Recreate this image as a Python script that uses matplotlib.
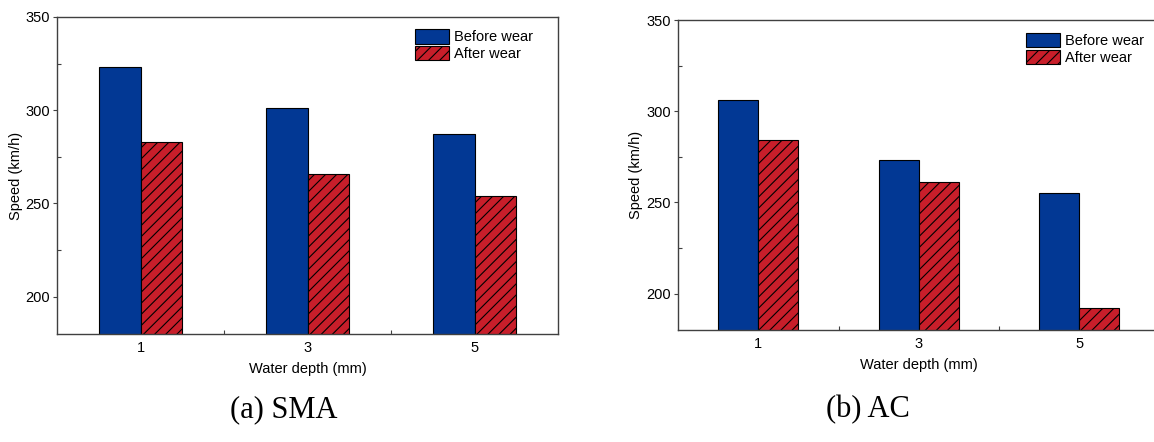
import matplotlib
matplotlib.use("Agg")
import matplotlib.pyplot as plt
import numpy as np
from matplotlib.ticker import FixedLocator

plt.rcParams['font.family'] = ['Liberation Sans', 'DejaVu Sans']
plt.rcParams['hatch.linewidth'] = 0.8

categories = ["1", "3", "5"]
sma_before = [323, 301, 287]
sma_after = [283, 266, 254]
ac_before = [306, 273, 255]
ac_after = [284, 261, 192]
series_labels = ["Before wear", "After wear"]
captions = ["(a) SMA", "(b) AC"]

BLUE = "#023894"
RED = "#C81E2A"

fig = plt.figure(figsize=(11.54, 4.42), dpi=100)

ax1 = fig.add_axes([57/1154, 1-334/442, 501/1154, 317/442])
ax2 = fig.add_axes([678/1154, 1-330/442, 481.5/1154, 310/442])

def draw(ax, before, after, leg_xy, caption, cap_x, ylabel_pad):
    x = np.arange(len(categories))
    w = 0.25
    ax.bar(x - w/2, before, w, color=BLUE, edgecolor="black",
           linewidth=0.8, label=series_labels[0])
    ax.bar(x + w/2, after, w, color=RED, edgecolor="black",
           linewidth=0.8, hatch="///", label=series_labels[1])
    ax.set_xlim(-0.5, 2.5)
    ax.set_ylim(180, 350)
    ax.set_xticks(x)
    ax.set_xticklabels(categories, fontsize=10.5)
    ax.set_yticks([200, 250, 300, 350])
    ax.tick_params(axis='y', labelsize=10.5, direction='out', length=3,
                   width=0.8, color="#404040", pad=2)
    ax.tick_params(axis='x', length=0, pad=5)
    ax.xaxis.set_minor_locator(FixedLocator([0.5, 1.5]))
    ax.yaxis.set_minor_locator(FixedLocator([225, 275, 325]))
    ax.tick_params(which='minor', direction='in', length=3, width=0.8,
                   color="#404040")
    for s in ax.spines.values():
        s.set_color("#404040")
        s.set_linewidth(1.0)
    ax.set_xlabel("Water depth (mm)", fontsize=10.5, labelpad=5)
    ax.set_ylabel("Speed (km/h)", fontsize=10.5, labelpad=ylabel_pad)
    ax.legend(loc="upper left", bbox_to_anchor=leg_xy, frameon=False,
              fontsize=10.5, handlelength=2.3, handleheight=1.15,
              handletextpad=0.35, labelspacing=0.12, borderpad=0,
              borderaxespad=0)
    fig.text(cap_x, 1-410/442, caption, family=['Liberation Serif'],
             fontsize=22, ha='center', va='center')

draw(ax1, sma_before, sma_after, (0.7146, 0.962), captions[0], 284/1154, 2)
draw(ax2, ac_before, ac_after, (0.7227, 0.958), captions[1], 868/1154, 2.5)

fig.savefig("out.png", dpi=100)
